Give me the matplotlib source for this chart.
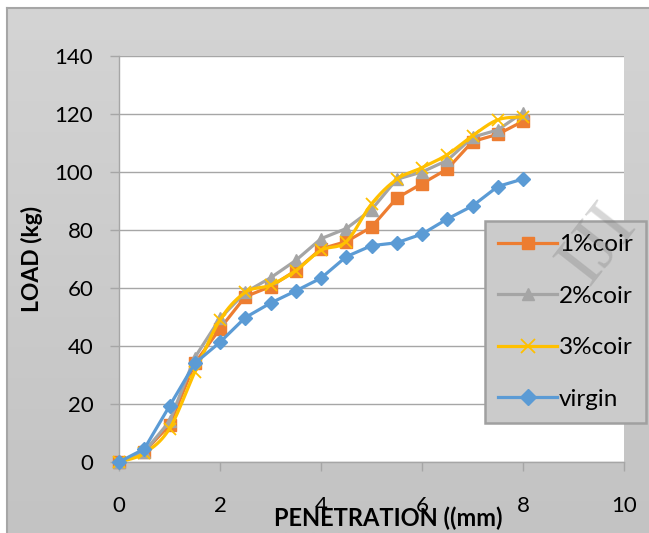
import numpy as np
import matplotlib.pyplot as plt
from matplotlib.lines import Line2D

plt.rcParams['font.family'] = ['Lato', 'DejaVu Sans']

# CBR test readings: penetration (mm) vs load (kg)
penetration = [0, 0.5, 1, 1.5, 2, 2.5, 3, 3.5, 4, 4.5, 5, 5.5, 6, 6.5, 7, 7.5, 8]
coir_1 = [0, 3.5, 12.7, 34, 46, 57, 60.5, 66, 73.5, 76, 81, 91, 96, 101, 110.5, 113, 117.5]
coir_2 = [0, 3.5, 14, 36, 49.5, 58.5, 63.5, 69.5, 77, 80.5, 87, 97.5, 100, 104, 112, 114.5, 120.5]
coir_3 = [0, 3, 11.5, 31, 49, 58.5, 61, 66, 73, 76, 89, 97.5, 101.5, 106, 112.5, 118, 119]
virgin = [0, 4.5, 19.3, 34, 41.3, 49.8, 54.8, 59, 63.4, 70.8, 74.6, 75.6, 78.6, 83.8, 88.3, 95, 97.6]

x_ticks = [0, 2, 4, 6, 8, 10]
y_ticks = [0, 20, 40, 60, 80, 100, 120, 140]


def smooth(xs, ys, n=20):
    # Catmull-Rom spline through the points (like a smoothed line)
    p = np.column_stack([xs, ys]).astype(float)
    p = np.vstack([p[0], p, p[-1]])
    out = []
    t = np.linspace(0, 1, n, endpoint=False)[:, None]
    for i in range(1, len(p) - 2):
        p0, p1, p2, p3 = p[i - 1], p[i], p[i + 1], p[i + 2]
        seg = 0.5 * ((2 * p1) + (-p0 + p2) * t + (2 * p0 - 5 * p1 + 4 * p2 - p3) * t ** 2
                     + (-p0 + 3 * p1 - 3 * p2 + p3) * t ** 3)
        out.append(seg)
    out.append(p[-2][None, :])
    out = np.vstack(out)
    return out[:, 0], out[:, 1]


W, H = 649, 533
fig = plt.figure(figsize=(W / 100, H / 100), dpi=100, facecolor='white')

# grey chart area with gradient
bg = fig.add_axes([7 / W, 0, 1 - 7 / W, (H - 8) / H])
grad = np.linspace(0, 1, 256)[:, None]
bg.imshow(grad, aspect='auto', cmap=plt.matplotlib.colors.LinearSegmentedColormap.from_list(
    'g', ['#d4d4d4', '#c3c3c3']), extent=[0, 1, 0, 1], origin='upper')
bg.set_xticks([])
bg.set_yticks([])
for s in ['right', 'bottom']:
    bg.spines[s].set_visible(False)
for s in ['top', 'left']:
    bg.spines[s].set_color('#a6a6a6')
    bg.spines[s].set_linewidth(1.5)

ax = fig.add_axes([119 / W, (H - 462) / H, (624 - 119) / W, (462 - 56) / H])
ax.set_facecolor('white')

lw = 2.3
ax.plot(penetration, coir_1, color='#ED7D31', lw=lw, marker='s', ms=8, clip_on=False, zorder=3)
ax.plot(penetration, coir_2, color='#A5A5A5', lw=lw, marker='^', ms=8, clip_on=False, zorder=4)
sx, sy = smooth(penetration, coir_3)
ax.plot(sx, sy, color='#FFC000', lw=lw, clip_on=False, zorder=5)
ax.plot(penetration, coir_3, ls='none', color='#FFC000', marker='x', ms=9, mew=1.3,
        clip_on=False, zorder=5)
ax.plot(penetration, virgin, color='#5B9BD5', lw=lw, marker='D', ms=7, clip_on=False, zorder=6)

ax.set_xlim(0, 10)
ax.set_ylim(0, 140)
ax.set_xticks(x_ticks)
ax.set_yticks(y_ticks)
ax.grid(axis='y', color='#a6a6a6', lw=1.0)
ax.set_axisbelow(True)
for s in ['top', 'right']:
    ax.spines[s].set_visible(False)
for s in ['left', 'bottom']:
    ax.spines[s].set_color('#a6a6a6')
    ax.spines[s].set_linewidth(1.0)
ax.tick_params(axis='both', direction='out', length=6.5, width=1.0, color='#a6a6a6',
               labelsize=16, labelcolor='black')
ax.tick_params(axis='x', pad=18)
ax.tick_params(axis='y', pad=12)

fig.text(32 / W, 1 - 259 / H, 'LOAD (kg)', rotation=90, ha='center', va='center',
         fontsize=16.5, fontweight='bold')
fig.text(388 / W, 1 - 518 / H, 'PENETRATION ((mm)', ha='center', va='center',
         fontsize=17, fontweight='bold')

handles = [
    Line2D([], [], color='#ED7D31', lw=lw, marker='s', ms=9),
    Line2D([], [], color='#A5A5A5', lw=lw, marker='^', ms=9),
    Line2D([], [], color='#FFC000', lw=lw, marker='x', ms=10, mew=1.3),
    Line2D([], [], color='#5B9BD5', lw=lw, marker='D', ms=8),
]
leg = fig.legend(handles, ['1%coir', '2%coir', '3%coir', 'virgin'],
                 loc='upper left', bbox_to_anchor=(485 / W, 1 - 221 / H),
                 fontsize=17.5, frameon=True, fancybox=False, handlelength=2.4,
                 handletextpad=0.1, labelspacing=1.25, borderpad=0.55, borderaxespad=0)
leg.get_frame().set_facecolor('#cbcbcb')
leg.get_frame().set_edgecolor('#a0a0a0')
leg.get_frame().set_linewidth(1.8)
leg.get_frame().set_alpha(1)
leg.set_zorder(10)

# faint watermark across the corner
fig.text(598 / W, 1 - 245 / H, 'IJI', rotation=52, ha='center', va='center',
         fontsize=54, family='Liberation Serif', color='#7a7a7a', alpha=0.3, zorder=20)

fig.savefig('out.png', dpi=100)
